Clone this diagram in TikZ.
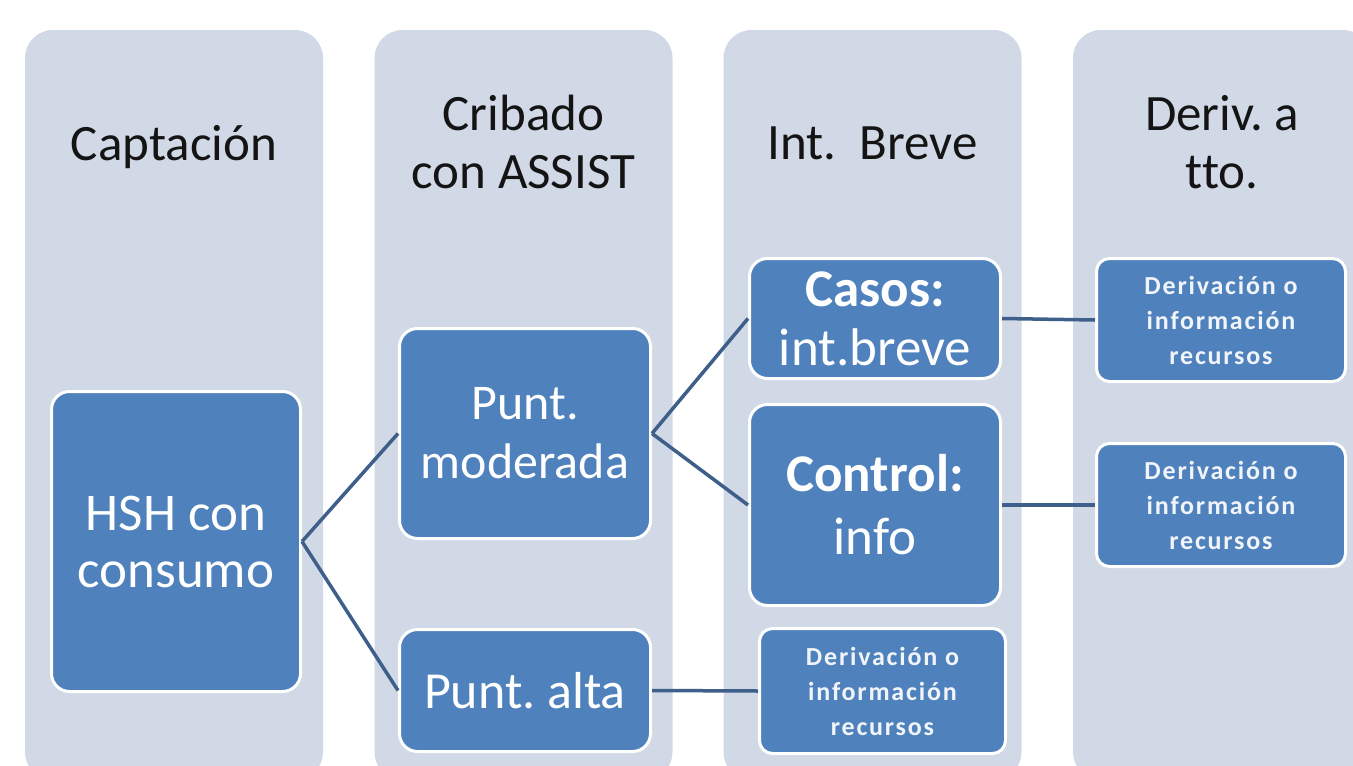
\documentclass[tikz,border=0pt]{standalone}
\usepackage{fontspec}
\setmainfont{Carlito}[Ligatures=NoCommon]
\newfontfamily\smallfam{Carlito}[LetterSpace=7, Ligatures=NoCommon]
\frenchspacing
\definecolor{colbg}{HTML}{D1D9E7}
\definecolor{boxblue}{HTML}{4F81BD}
\definecolor{linec}{HTML}{3F5F8B}
\definecolor{hdrc}{HTML}{141414}
\tikzset{
  col/.style={fill=colbg, draw=none, rounded corners=28pt, minimum width=298pt, minimum height=750pt, inner sep=0pt},
  hdr/.style={text=hdrc, align=center, inner sep=0pt, anchor=base, font=\fontsize{51}{58}\selectfont},
  bigbox/.style={draw=white, line width=3pt, fill=boxblue, rounded corners=18pt, text=white, align=center, inner sep=0pt, font=\fontsize{52}{58}\selectfont},
  smallbox/.style={draw=white, line width=3pt, fill=boxblue, rounded corners=13pt, text=white!92!boxblue, align=center, inner sep=0pt, font=\smallfam\bfseries\fontsize{26}{35}\selectfont},
  conn/.style={draw=linec, line width=3.5pt}
}
\begin{document}
\begin{tikzpicture}[x=1pt, y=-1pt]
\useasboundingbox[fill=white] (0,0) rectangle (1353,766);
% columns
\node[col] (c1) at (174,405) {};
\node[col] (c2) at (523.5,405) {};
\node[col] (c3) at (872.5,405) {};
\node[col] (c4) at (1222,405) {};
% headers (base = baseline of the last line)
\node[hdr] (h1) at (174,160) {Captación};
\node[hdr] (h2) at (523.5,188) {Cribado\\con ASSIST};
\node[hdr] (h3) at (872.5,159) {Int.\ \ Breve};
\node[hdr] (h4) at (1222,188) {Deriv. a\\tto.};
% boxes
\node[bigbox, minimum width=249pt, minimum height=300pt, font=\fontsize{53}{57}\selectfont] (hsh) at (176,541.5) {HSH con\\consumo};
\node[bigbox, minimum width=251pt, minimum height=210pt, font=\fontsize{50}{59}\selectfont] (mod) at (525,433.5) {Punt.\\moderada};
\node[bigbox, minimum width=251pt, minimum height=122pt, font=\fontsize{52}{58}\selectfont] (alta) at (525,690.5) {Punt. alta};
\node[bigbox, minimum width=251pt, minimum height=120pt, font=\fontsize{53}{59}\selectfont] (casos) at (875,318.5) {\textbf{Casos:}\\int.breve};
\node[bigbox, minimum width=251pt, minimum height=201pt, font=\fontsize{53}{63}\selectfont] (ctrl) at (875,505) {\textbf{Control:}\\info};
\node[smallbox, minimum width=246pt, minimum height=125pt] (d3) at (882.5,691) {Derivación o\\información\\recursos};
\node[smallbox, minimum width=249pt, minimum height=123pt] (d4a) at (1221,320) {Derivación o\\información\\recursos};
\node[smallbox, minimum width=249pt, minimum height=123pt] (d4b) at (1221,505) {Derivación o\\información\\recursos};
% connectors
\draw[conn] (hsh.east) -- (mod.west);
\draw[conn] (hsh.east) -- (alta.west);
\draw[conn] (mod.east) -- (casos.west);
\draw[conn] (mod.east) -- (ctrl.west);
\draw[conn] (alta.east) -- (d3.west);
\draw[conn] (casos.east) -- (d4a.west);
\draw[conn] (ctrl.east) -- (d4b.west);
\end{tikzpicture}
\end{document}
